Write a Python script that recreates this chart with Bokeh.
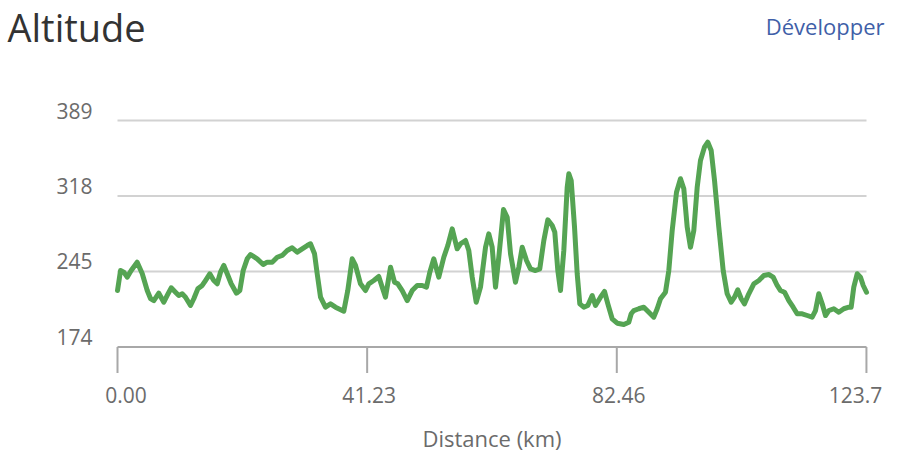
from bokeh.plotting import figure
from bokeh.models import Range1d, Label, Grid
from bokeh.embed import file_html
from bokeh.resources import INLINE

# ---- data ----
dist_km = [
    0.0, 0.50, 1.04, 1.60, 2.26, 3.25, 4.08, 4.91, 5.45, 6.00,
    6.82, 7.65, 8.21, 8.87, 9.58, 10.12, 10.69, 11.23, 12.06, 12.60,
    13.26, 13.99, 14.53, 15.24, 15.90, 16.47, 17.01, 17.56, 18.12, 18.78,
    19.65, 20.20, 20.76, 21.42, 21.97, 23.07, 24.06, 24.72, 25.55, 26.38,
    27.20, 28.03, 28.85, 29.68, 30.50, 31.33, 31.87, 32.54, 32.98, 33.53,
    34.35, 35.18, 36.00, 37.37, 38.03, 38.76, 39.31, 40.13, 40.96, 41.50,
    42.33, 43.15, 43.72, 44.26, 45.09, 45.75, 46.29, 47.02, 47.85, 48.67,
    49.50, 50.32, 51.03, 51.58, 52.24, 53.06, 53.89, 54.55, 55.28, 56.10,
    56.65, 57.48, 58.02, 58.58, 59.24, 59.95, 60.78, 61.32, 61.88, 62.43,
    62.97, 63.75, 64.36, 64.91, 65.73, 66.28, 66.84, 67.55, 68.21, 69.03,
    69.74, 70.41, 71.07, 71.79, 72.22, 72.72, 73.16, 73.71, 74.27, 74.54,
    74.93, 75.48, 75.92, 76.35, 77.01, 77.67, 78.40, 78.94, 79.77, 80.43,
    80.98, 81.70, 82.53, 83.62, 84.44, 84.84, 85.27, 86.09, 86.92, 87.75,
    88.57, 89.13, 89.68, 90.50, 91.05, 91.61, 92.32, 92.98, 93.53, 94.09,
    94.63, 95.18, 95.74, 96.28, 96.94, 97.49, 98.05, 98.60, 99.31, 100.03,
    100.69, 101.35, 101.90, 102.44, 103.01, 103.55, 104.26, 105.09, 105.92, 106.74,
    107.56, 108.29, 108.95, 109.50, 110.16, 110.87, 111.59, 112.25, 113.08, 113.91,
    114.73, 115.28, 115.82, 116.38, 116.93, 117.47, 118.30, 119.12, 119.95, 120.78,
    121.17, 121.60, 122.16, 122.71, 123.16, 123.70,
]
altitude_m = [
    227.6, 246.6, 245.0, 240.3, 246.6, 254.5, 243.8, 227.6, 220.0, 218.1,
    225.1, 216.5, 222.9, 230.2, 226.0, 222.9, 224.5, 221.3, 213.4, 219.8,
    229.2, 232.4, 237.1, 243.5, 237.1, 234.0, 245.0, 251.4, 243.5, 234.0,
    225.1, 227.6, 246.6, 257.7, 261.8, 257.7, 252.3, 254.5, 254.5, 259.2,
    260.9, 265.6, 268.2, 264.0, 267.2, 270.3, 272.0, 262.5, 243.5, 221.3,
    211.8, 215.0, 211.8, 208.0, 227.6, 257.7, 251.4, 234.0, 227.6, 234.0,
    237.1, 240.9, 230.8, 221.3, 249.7, 235.5, 234.0, 227.6, 218.1, 227.6,
    232.4, 232.4, 230.8, 245.0, 257.7, 240.3, 259.2, 270.3, 286.2, 267.2,
    272.0, 275.1, 265.6, 240.3, 216.5, 230.8, 268.7, 281.4, 268.7, 230.8,
    259.2, 304.5, 297.2, 262.5, 235.5, 249.7, 268.7, 256.1, 248.2, 246.6,
    248.2, 275.1, 294.7, 289.3, 283.0, 246.6, 227.6, 265.6, 325.7, 338.4,
    332.0, 287.7, 243.5, 215.0, 211.8, 213.4, 222.9, 213.4, 221.3, 226.7,
    215.0, 200.8, 196.6, 195.4, 197.5, 205.5, 208.6, 210.3, 211.8, 207.0,
    202.3, 210.3, 219.8, 226.0, 246.6, 284.6, 320.9, 333.7, 324.2, 287.7,
    268.7, 284.6, 325.7, 351.0, 363.7, 368.4, 360.5, 332.0, 287.7, 246.6,
    224.5, 216.5, 221.3, 228.3, 219.8, 215.0, 224.5, 234.0, 237.1, 241.9,
    242.8, 240.3, 232.4, 227.6, 226.0, 218.1, 211.8, 205.5, 205.5, 203.9,
    202.3, 208.6, 224.5, 215.0, 203.9, 208.6, 210.3, 207.0, 210.3, 211.8,
    211.8, 230.8, 243.5, 240.3, 232.4, 226.0,
]
x_ticks = [0.0, 41.23, 82.46, 123.69]
x_tick_labels = ["0.00", "41.23", "82.46", "123.7"]
y_ticks = [174.0, 245.67, 317.33, 389.0]
y_tick_labels = ["174", "245", "318", "389"]
title_text = "Altitude"
link_text = "Développer"
x_title = "Distance (km)"

# ---- layout / styles ----
FONT = "Open Sans"
LABEL_COLOR = "#6b6b6b"
AXIS_COLOR = "#a8a8a8"
GRID_COLOR = "#d2d2d2"
W, H = 900, 452
# plot area inside the canvas (pixels): left, right, top, bottom
PL, PR, PT, PB = 117.0, 866.0, 120.0, 346.5
X0, X1 = 0.0, 123.7
Y0, Y1 = y_ticks[0], y_ticks[-1]
ppx = (PR - PL) / (X1 - X0)
ppy = (PB - PT) / (Y1 - Y0)
TICK_LEN = 26

p = figure(width=W, height=H, output_backend="svg", toolbar_location=None,
           title=None, x_axis_location=None, y_axis_location=None,
           x_range=Range1d(X0 - PL / ppx, X1 + (W - PR) / ppx),
           y_range=Range1d(Y0 - (H - PB) / ppy, Y1 + PT / ppy),
           min_border_left=0, min_border_right=0,
           min_border_top=0, min_border_bottom=0)
p.outline_line_color = None
p.background_fill_color = "white"
p.border_fill_color = "white"
# no default full-canvas grids
p.center = [c for c in p.center if not isinstance(c, Grid)]

# horizontal gridlines across the plot area
n_grid = len(y_ticks) - 1
p.segment(x0=[X0] * n_grid, x1=[X1] * n_grid, y0=y_ticks[1:], y1=y_ticks[1:],
          line_color=GRID_COLOR, line_width=2)
# x-axis baseline and hanging tick marks
p.segment(x0=[X0], x1=[X1], y0=[Y0], y1=[Y0],
          line_color=AXIS_COLOR, line_width=2)
p.segment(x0=x_ticks, x1=x_ticks, y0=[Y0] * len(x_ticks),
          y1=[Y0 - TICK_LEN / ppy] * len(x_ticks),
          line_color=AXIS_COLOR, line_width=2)

p.line(dist_km, altitude_m, line_color="#55a453", line_width=5,
       line_join="round", line_cap="round")

# y tick labels, sitting just above their gridlines
for v, t in zip(y_ticks, y_tick_labels):
    p.add_layout(Label(x=X0, y=v, x_offset=-25, y_offset=10, text=t,
                       text_align="right", text_baseline="alphabetic",
                       text_font=FONT, text_font_size="21px",
                       text_color=LABEL_COLOR))

# x tick labels (first/last pulled inward)
x_label_offsets = [8.5, 2, 2, -11]
for v, t, off in zip(x_ticks, x_tick_labels, x_label_offsets):
    p.add_layout(Label(x=v, y=Y0, x_offset=off, y_offset=-48, text=t,
                       text_align="center", text_baseline="alphabetic",
                       text_font=FONT, text_font_size="21px",
                       text_color=LABEL_COLOR))

# x axis title
p.add_layout(Label(x=(X0 + X1) / 2, y=Y0, y_offset=-91, text=x_title,
                   text_align="center", text_baseline="alphabetic",
                   text_font=FONT, text_font_size="22px",
                   text_color=LABEL_COLOR))

# chart title and link
p.add_layout(Label(x=X0, y=Y1, x_offset=-110, y_offset=93.6, text=title_text,
                   text_align="left", text_baseline="alphabetic",
                   text_font=FONT, text_font_size="38px",
                   text_color="#333333"))
p.add_layout(Label(x=X1, y=Y1, x_offset=18, y_offset=94.8, text=link_text,
                   text_align="right", text_baseline="alphabetic",
                   text_font=FONT, text_font_size="22px",
                   text_color="#3f5fa8"))

open("out.html", "w").write(file_html(p, INLINE))
